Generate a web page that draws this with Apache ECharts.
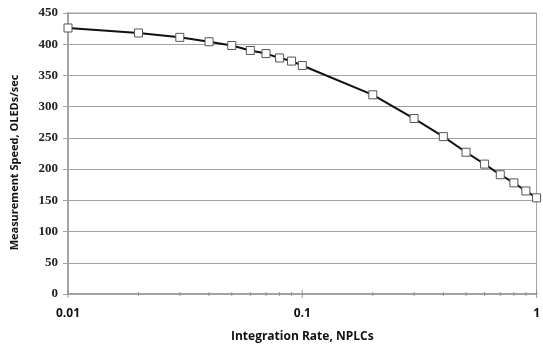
<!DOCTYPE html>
<html>
<head>
<meta charset="utf-8">
<script src="https://cdn.jsdelivr.net/npm/echarts@6/dist/echarts.min.js"></script>
<style>
  html, body { margin: 0; padding: 0; background: #fff; }
  #chart { width: 543px; height: 348px; }
</style>
</head>
<body>
<div id="chart"></div>
<script>
// Integration rate (NPLCs) and the measurement speed reached at each setting
var nplc = [0.01, 0.02, 0.03, 0.04, 0.05, 0.06, 0.07, 0.08, 0.09, 0.1,
            0.2, 0.3, 0.4, 0.5, 0.6, 0.7, 0.8, 0.9, 1];
var speed = [426, 418, 411, 404, 398, 390, 385, 378, 373, 366,
             319, 281, 252, 227, 208, 191, 178, 165, 154];

// Decade and in-between tick positions on the log axis
var majorTicks = [0.01, 0.1, 1];
var minorTicks = [0.02, 0.03, 0.04, 0.05, 0.06, 0.07, 0.08, 0.09,
                  0.2, 0.3, 0.4, 0.5, 0.6, 0.7, 0.8, 0.9];
var xTickLabels = { 0.01: '0.01', 0.1: '0.1', 1: '1' };

var gridGray = '#a3a3a3';
var sansBold = '"Open Sans", "DejaVu Sans", sans-serif';
var serifBold = '"Liberation Serif", "DejaVu Serif", serif';

var chart = echarts.init(document.getElementById('chart'), null, { renderer: 'canvas' });

chart.setOption({
  animation: false,
  backgroundColor: '#fff',
  grid: {
    left: 68, right: 4, top: 13, bottom: 48,
    show: true, borderColor: gridGray, borderWidth: 1
  },
  xAxis: {
    type: 'log',
    logBase: 10,
    min: 0.01,
    max: 1,
    name: 'Integration Rate, NPLCs',
    nameLocation: 'middle',
    nameGap: 37,
    nameTextStyle: { fontFamily: sansBold, fontWeight: 'bold', fontSize: 12, color: '#111' },
    axisLine: { show: true, lineStyle: { color: gridGray, width: 2 } },
    axisTick: { show: false },
    splitLine: { show: false },
    axisLabel: {
      margin: 14,
      fontFamily: sansBold, fontWeight: 'bold', fontSize: 12, color: '#111',
      formatter: function (v) {
        var key = Number(v.toPrecision(3));
        return xTickLabels[key] !== undefined ? xTickLabels[key] : '';
      }
    }
  },
  yAxis: {
    type: 'value',
    min: 0,
    max: 450,
    interval: 50,
    name: 'Measurement Speed, OLEDs/sec',
    nameLocation: 'middle',
    nameGap: 48,
    nameTextStyle: {
      fontFamily: sansBold, fontWeight: 'bold', fontSize: 11, color: '#111',
      padding: [0, 18, 0, 0]
    },
    axisLine: { show: true, lineStyle: { color: gridGray, width: 2 } },
    axisTick: { show: true, length: 5, lineStyle: { color: gridGray } },
    splitLine: { show: true, lineStyle: { color: gridGray, width: 1 } },
    axisLabel: {
      margin: 10,
      fontFamily: serifBold, fontWeight: 'bold', fontSize: 13, color: '#222'
    }
  },
  series: [
    {
      type: 'scatter',
      silent: true,
      clip: false,
      symbol: 'rect',
      symbolSize: [1, 4],
      itemStyle: { color: '#888' },
      data: minorTicks.map(function (x) { return [x, 0]; }),
      z: 1
    },
    {
      type: 'scatter',
      silent: true,
      clip: false,
      symbol: 'rect',
      symbolSize: [1, 8],
      itemStyle: { color: '#888' },
      data: majorTicks.map(function (x) { return [x, 0]; }),
      z: 1
    },
    {
      type: 'line',
      data: nplc.map(function (x, i) { return [x, speed[i]]; }),
      symbol: 'rect',
      symbolSize: 8,
      showAllSymbol: true,
      clip: false,
      lineStyle: { color: '#111', width: 2 },
      itemStyle: { color: '#fff', borderColor: '#555', borderWidth: 1 },
      z: 3
    }
  ]
});
</script>
</body>
</html>
